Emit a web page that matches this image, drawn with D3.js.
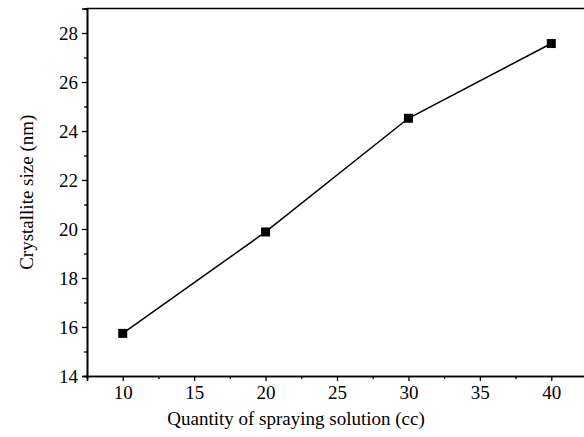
<!DOCTYPE html>
<html>
<head>
<meta charset="utf-8">
<script src="https://cdn.jsdelivr.net/npm/d3@7"></script>
<style>
    body { margin: 0; background: #fff; }
    svg { display: block; }
</style>
</head>
<body>
<div id="chart"></div>
<script>
const quantity = [10, 20, 30, 40]
const crystalliteSize = [15.74, 19.88, 24.52, 27.57]
const xTicks = [10, 15, 20, 25, 30, 35, 40]
const yTicks = [14, 16, 18, 20, 22, 24, 26, 28]

const FONT = "'Liberation Serif', 'DejaVu Serif', 'Times New Roman', serif"
const width = 584
const height = 437
const margin = { top: 8.5, right: -3, bottom: 61, left: 87 }
const innerW = width - margin.left - margin.right
const innerH = height - margin.top - margin.bottom

const svg = d3.select("#chart")
    .append("svg")
    .attr("width", width)
    .attr("height", height)

const g = svg.append("g")
    .attr("transform", `translate(${margin.left}, ${margin.top})`)

const x = d3.scaleLinear().domain([7.5, 42.5]).range([0, innerW])
const y = d3.scaleLinear().domain([14, 29]).range([innerH, 0])

// minor ticks
const xMinor = d3.range(7.5, 42.6, 2.5).filter(v => !xTicks.includes(v))
const yMinor = d3.range(15, 29, 2)

g.append("g")
    .attr("transform", `translate(0, ${innerH})`)
    .call(d3.axisBottom(x).tickValues(xMinor).tickSize(3).tickFormat(""))
g.append("g")
    .call(d3.axisLeft(y).tickValues(yMinor).tickSize(3).tickFormat(""))

// X AXIS
const xAxis = g.append("g")
    .attr("transform", `translate(0, ${innerH})`)
    .call(d3.axisBottom(x).tickValues(xTicks).tickSize(5).tickPadding(5).tickFormat(d3.format("d")))

// Y AXIS
const yAxis = g.append("g")
    .call(d3.axisLeft(y).tickValues(yTicks).tickSize(5).tickPadding(4).tickFormat(d3.format("d")))

g.selectAll(".tick text")
    .style("font-family", FONT)
    .style("font-size", "19px")
g.selectAll(".domain").attr("stroke-width", 1.6)
g.selectAll(".tick line").attr("stroke-width", 1.3)

// top and right frame
g.append("line")
    .attr("x1", 0).attr("x2", innerW)
    .attr("y1", 0).attr("y2", 0)
    .attr("stroke", "#000").attr("stroke-width", 1.6)
g.append("line")
    .attr("x1", innerW).attr("x2", innerW)
    .attr("y1", 0).attr("y2", innerH)
    .attr("stroke", "#000").attr("stroke-width", 1.6)

const data = quantity.map((q, i) => ({ q, s: crystalliteSize[i] }))

g.append("path")
    .datum(data)
    .attr("fill", "none")
    .attr("stroke", "#000")
    .attr("stroke-width", 1.5)
    .attr("d", d3.line(d => x(d.q), d => y(d.s)))

const size = 9
g.selectAll(".marker")
    .data(data)
    .enter()
    .append("rect")
    .attr("class", "marker")
    .attr("x", d => x(d.q) - size / 2)
    .attr("y", d => y(d.s) - size / 2)
    .attr("width", size)
    .attr("height", size)
    .attr("fill", "#000")

// axis titles
svg.append("text")
    .attr("x", 296)
    .attr("y", 425)
    .attr("text-anchor", "middle")
    .style("font-family", FONT)
    .style("font-size", "19px")
    .text("Quantity of spraying solution (cc)")

svg.append("text")
    .attr("transform", `translate(33, ${margin.top + y(21.5)}) rotate(-90)`)
    .attr("text-anchor", "middle")
    .style("font-family", FONT)
    .style("font-size", "19px")
    .text("Crystallite size (nm)")
</script>
</body>
</html>
